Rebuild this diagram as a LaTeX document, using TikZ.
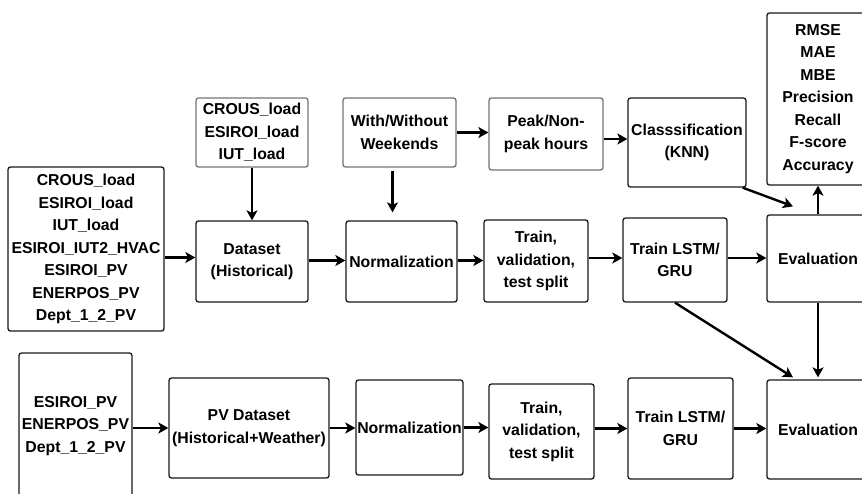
\documentclass[tikz,border=0pt]{standalone}
\usepackage{fontspec}
\setmainfont{Liberation Sans}
\usetikzlibrary{arrows.meta,calc}
\begin{document}
\begin{tikzpicture}[x=1pt,y=-1pt,
  box/.style={draw=black!90,line width=1.3pt,rounded corners=2.5pt,align=center,inner sep=0pt,
    font=\bfseries\fontsize{15.8}{22.5}\selectfont},
  gbox/.style={box,draw=black!55},
  arr/.style={line width=2.4pt,-{Stealth[length=10pt,width=11pt,inset=2.5pt]}}]
\clip (0,0) rectangle (862,493);
\useasboundingbox (0,0) rectangle (862,493);
% top branch
\node[box,minimum width=156pt,minimum height=164pt] (in1) at (86,249) {CROUS\_load\\ESIROI\_load\\IUT\_load\\ESIROI\_IUT2\_HVAC\\ESIROI\_PV\\ENERPOS\_PV\\Dept\_1\_2\_PV};
\node[gbox,minimum width=112pt,minimum height=69pt] (crous) at (252,132.5) {CROUS\_load\\ESIROI\_load\\IUT\_load};
\node[box,minimum width=112pt,minimum height=81pt] (ds) at (252,261.5) {Dataset\\(Historical)};
\node[gbox,minimum width=113pt,minimum height=69pt] (wk) at (399.5,132.5) {With/Without\\Weekends};
\node[box,minimum width=111pt,minimum height=81pt] (norm1) at (401.5,261.5) {Normalization};
\node[gbox,minimum width=114pt,minimum height=72pt] (peak) at (546,134) {Peak/Non-\\peak hours};
\node[box,minimum width=118pt,minimum height=89pt] (knn) at (687,142.5) {Classsification\\(KNN)};
\node[box,minimum width=104pt,minimum height=82pt] (split1) at (536,261) {Train,\\validation,\\test split};
\node[box,minimum width=104pt,minimum height=84pt] (lstm1) at (675,260) {Train LSTM/\\GRU};
\node[box,minimum width=102pt,minimum height=87pt] (eval1) at (818,258.5) {Evaluation};
\node[box,minimum width=102pt,minimum height=172pt] (met) at (818,99) {RMSE\\MAE\\MBE\\Precision\\Recall\\F-score\\Accuracy};
% bottom branch
\node[box,minimum width=113pt,minimum height=146pt] (in2) at (75.5,426) {ESIROI\_PV\\ENERPOS\_PV\\Dept\_1\_2\_PV};
\node[box,minimum width=160pt,minimum height=100pt] (pvds) at (249,428) {PV Dataset\\(Historical+Weather)};
\node[box,minimum width=107pt,minimum height=95pt] (norm2) at (409.5,427.5) {Normalization};
\node[box,minimum width=105pt,minimum height=95pt] (split2) at (541.5,431.5) {Train,\\validation,\\test split};
\node[box,minimum width=105pt,minimum height=101pt] (lstm2) at (680.5,428.5) {Train LSTM/\\GRU};
\node[box,minimum width=102pt,minimum height=99pt] (eval2) at (818,429.5) {Evaluation};
% arrows top
\draw[arr] ([yshift=4pt]in1.east |- ds.west) -- ([yshift=4pt]ds.west);
\draw[arr] (crous.south) -- (ds.north);
\draw[arr,shorten <=3pt,shorten >=8pt] ([xshift=-7pt]wk.south) -- ([xshift=-7pt]wk.south |- norm1.north);
\draw[arr] (wk.east) -- (wk.east -| peak.west);
\draw[arr] ([yshift=-5pt]peak.east) -- ([yshift=-5pt]peak.east -| knn.west);
\draw[arr] ([yshift=1pt]ds.east) -- ([yshift=1pt]norm1.west);
\draw[arr] ([yshift=1pt]norm1.east) -- ([yshift=1pt]norm1.east -| split1.west);
\draw[arr] ([yshift=3pt]split1.east) -- ([yshift=3pt]split1.east -| lstm1.west);
\draw[arr] ([yshift=2pt]lstm1.east) -- ([yshift=2pt]lstm1.east -| eval1.west);
\draw[arr] ([xshift=-4pt]knn.south east) -- ([xshift=-25pt,yshift=8pt]eval1.north);
\draw[arr] (eval1.north) -- (met.south);
\draw[arr] (lstm1.south) -- ([xshift=-25pt,yshift=2pt]eval2.north);
\draw[arr] (eval1.south) -- ([yshift=2pt]eval2.north);
% arrows bottom
\draw[arr] (in2.east |- pvds.west) -- (pvds.west);
\draw[arr] (pvds.east) -- (pvds.east -| norm2.west);
\draw[arr] (norm2.east) -- (norm2.east -| split2.west);
\draw[arr] (lstm2.west -| split2.east) -- (lstm2.west);
\draw[arr] (lstm2.east) -- (lstm2.east -| eval2.west);
\end{tikzpicture}
\end{document}
